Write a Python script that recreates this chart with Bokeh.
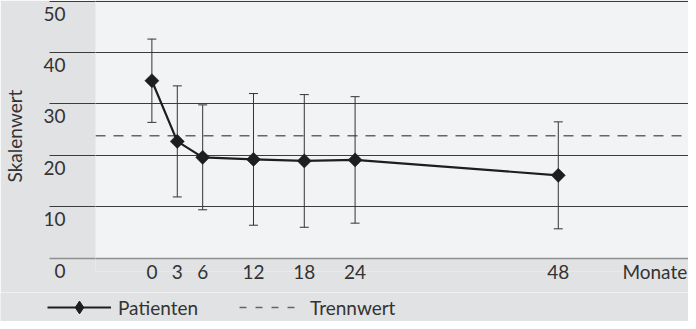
import math
from bokeh.plotting import figure
from bokeh.layouts import column
from bokeh.models import (Range1d, FixedTicker, LinearAxis, BoxAnnotation, Span, Whisker,
                          ColumnDataSource, TeeHead, Legend, LegendItem)
from bokeh.embed import file_html
from bokeh.resources import INLINE

# ---- data ----
months = [0, 3, 6, 12, 18, 24, 48]
mean_score = [34.5, 22.7, 19.6, 19.2, 18.9, 19.1, 16.1]
sd_score = [8.1, 10.8, 10.2, 12.8, 12.9, 12.3, 10.4]
threshold = 23.8
y_ticks = [0, 10, 20, 30, 40, 50]
y_tick_labels = ["0", "10", "20", "30", "40", "50"]
x_tick_labels = ["0", "3", "6", "12", "18", "24", "48"]
x_unit_label = "Monate"
series_label = "Patienten"
threshold_label = "Trennwert"
y_title = "Skalenwert"

# ---- style / layout ----
BG = "#e1e2e4"
PANEL = "#f2f3f5"
GRID = "#3c3c3c"
ZERO = "#8f8f8f"
INK = "#1e1e1e"
BAR = "#333333"
DASH = "#666666"
TXT = "#333333"
FONT = "Lato"
FS = "19px"

X0, X1 = -6.66, 63.38
Y0, Y1 = -2.6, 50.1
UNIT_POS = 59.4          # where the unit label sits along the x axis
FRAME_H = 271
PX_PER_Y = FRAME_H / (Y1 - Y0)
LABEL_SHIFT = 12.5 / PX_PER_Y   # y labels sit below their grid line

src = ColumnDataSource(dict(
    x=months,
    y=mean_score,
    lower=[m - s for m, s in zip(mean_score, sd_score)],
    upper=[m + s for m, s in zip(mean_score, sd_score)],
    thr=[threshold] * len(months),
))

H1 = 292
p = figure(width=688, height=H1, x_range=Range1d(X0, X1), y_range=Range1d(Y0, Y1),
           output_backend="svg", toolbar_location=None,
           min_border_left=94, min_border_right=0, min_border_top=0,
           min_border_bottom=H1 - FRAME_H,
           background_fill_color=BG, border_fill_color=BG, outline_line_color=None)

p.extra_y_ranges = {"lab": Range1d(Y0 + LABEL_SHIFT, Y1 + LABEL_SHIFT)}

# light panel area
p.add_layout(BoxAnnotation(bottom=0, top=50, fill_color=PANEL, fill_alpha=1,
                           line_color=None, level="image"))

grid_ticker = FixedTicker(ticks=y_ticks[1:], minor_ticks=[y_ticks[0]])
p.xgrid.visible = False
p.ygrid.ticker = grid_ticker
p.ygrid.grid_line_color = GRID
p.ygrid.grid_line_width = 1
p.ygrid.minor_grid_line_color = ZERO
p.ygrid.minor_grid_line_width = 1.6

# axis A: grid line extensions to the left
ya = p.yaxis[0]
ya.ticker = grid_ticker
ya.axis_line_color = None
ya.major_tick_out = 46
ya.major_tick_in = 0
ya.minor_tick_out = 46
ya.minor_tick_in = 0
ya.major_tick_line_color = GRID
ya.minor_tick_line_color = ZERO
ya.minor_tick_line_width = 1.6
ya.major_label_overrides = {t: "" for t in y_ticks}
ya.major_label_standoff = 0

# axis B: labels (shifted below grid lines) and title
yb = LinearAxis(y_range_name="lab", ticker=FixedTicker(ticks=y_ticks),
                major_label_overrides={t: l for t, l in zip(y_ticks, y_tick_labels)},
                axis_line_color=None, major_tick_line_color=None, minor_tick_line_color=None,
                major_tick_out=0, major_tick_in=0, minor_tick_out=0, minor_tick_in=0,
                major_label_standoff=-16,
                major_label_text_font=FONT, major_label_text_font_size=FS,
                major_label_text_color=TXT,
                axis_label=y_title, axis_label_text_font=FONT, axis_label_text_font_size=FS,
                axis_label_text_font_style="normal", axis_label_text_color=TXT,
                axis_label_standoff=14)
p.add_layout(yb, "left")

# x axis
xa = p.xaxis[0]
xa.ticker = FixedTicker(ticks=months + [UNIT_POS])
ov = {m: l for m, l in zip(months, x_tick_labels)}
ov[UNIT_POS] = x_unit_label
xa.major_label_overrides = ov
xa.axis_line_color = None
xa.major_tick_line_color = None
xa.minor_tick_line_color = None
xa.major_tick_out = 0
xa.major_tick_in = 0
xa.major_label_standoff = -12
xa.major_label_text_font = FONT
xa.major_label_text_font_size = FS
xa.major_label_text_color = TXT

# threshold
TH_STYLE = dict(line_color=DASH, line_width=1.6)
p.add_layout(Span(location=threshold, dimension="width", line_dash="10 8",
                  level="underlay", **TH_STYLE))

# error bars
p.add_layout(Whisker(base="x", upper="upper", lower="lower", source=src,
                     line_color=BAR, line_width=1, level="underlay",
                     upper_head=TeeHead(size=9, line_color=BAR, line_width=1),
                     lower_head=TeeHead(size=9, line_color=BAR, line_width=1)))

line_style = dict(line_color=INK, line_width=2.2)
p.line("x", "y", source=src, **line_style)
p.scatter("x", "y", source=src, marker="square", angle=math.pi / 4, size=10,
          fill_color=INK, line_color=INK, line_width=0.5)

# ---- legend strip below the chart (its own data lies outside its ranges) ----
H2 = 321 - H1
lg = figure(width=688, height=H2, x_range=Range1d(-100, -99), y_range=Range1d(-100, -99),
            output_backend="svg", toolbar_location=None,
            x_axis_type=None, y_axis_type=None, frame_align=False,
            min_border_left=0, min_border_right=0, min_border_top=0, min_border_bottom=0,
            background_fill_color=BG, border_fill_color=BG, outline_line_color=None)
lg.xgrid.visible = False
lg.ygrid.visible = False
k_ln = lg.line("x", "y", source=src, **line_style)
k_pt = lg.scatter("x", "y", source=src, marker="diamond", size=10,
                  fill_color=INK, line_color=INK, line_width=1)
k_th = lg.line("x", "thr", source=src, line_dash="7 9", **TH_STYLE)

legend = Legend(items=[LegendItem(label=series_label, renderers=[k_ln, k_pt]),
                       LegendItem(label=threshold_label, renderers=[k_th])],
                orientation="horizontal", location=(47, -2),
                glyph_width=64, glyph_height=32, label_standoff=7, spacing=41,
                padding=0, margin=0, background_fill_alpha=0, border_line_color=None,
                label_text_font=FONT, label_text_font_size=FS, label_text_color=TXT)
lg.add_layout(legend, "center")

page = column(p, lg, spacing=0)
open("out.html", "w").write(file_html(page, INLINE))
